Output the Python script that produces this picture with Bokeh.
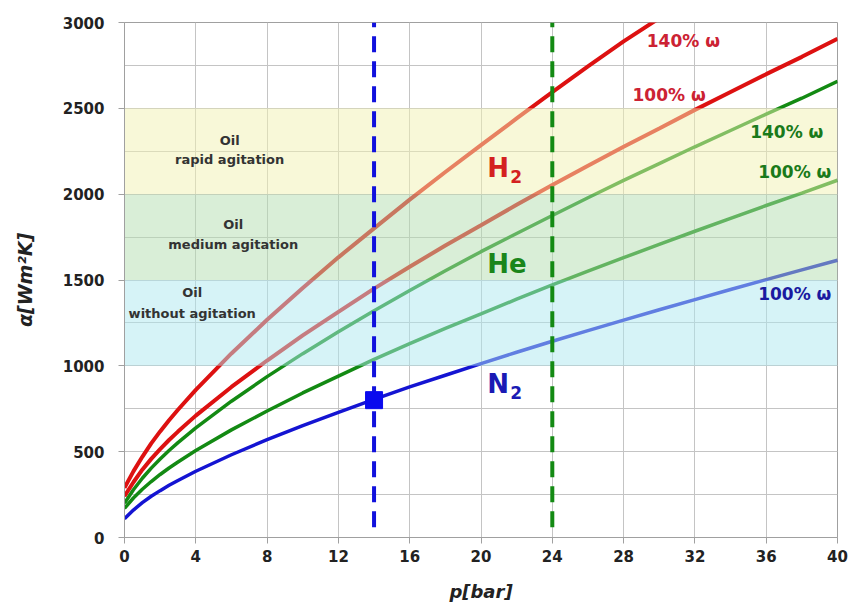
from bokeh.plotting import figure
from bokeh.models import Range1d, SingleIntervalTicker, FixedTicker
from bokeh.core.properties import value
from bokeh.embed import file_html
from bokeh.resources import INLINE

# ---- data ----
x_h2_140 = [0, 0.5, 1, 1.5, 2, 2.5, 3, 4, 6, 8, 10, 12, 14, 16, 18, 20, 22, 24, 26, 28, 30]
h2_140 = [290, 385, 470, 548, 618, 683, 744, 860, 1072, 1268, 1454, 1632, 1801, 1968, 2129, 2286, 2441, 2595, 2744, 2890, 3025]

x_p = [0, 0.5, 1, 1.5, 2, 2.5, 3, 4, 6, 8, 10, 12, 14, 16, 18, 20, 22, 24, 26, 28, 30, 32, 34, 36, 38, 40]
h2_100 = [240, 322, 395, 458, 515, 568, 617, 710, 877, 1031, 1177, 1314, 1450, 1577, 1701, 1819, 1938, 2054, 2166, 2276, 2383, 2491, 2595, 2699, 2800, 2905]
he_140 = [200, 278, 345, 404, 457, 507, 553, 639, 794, 937, 1071, 1198, 1321, 1439, 1554, 1665, 1771, 1876, 1979, 2080, 2178, 2276, 2371, 2466, 2559, 2658]
he_100 = [170, 230, 281, 326, 367, 405, 440, 507, 627, 737, 842, 940, 1038, 1129, 1218, 1302, 1388, 1471, 1552, 1630, 1707, 1784, 1859, 1934, 2006, 2081]
n2_100 = [110, 160, 203, 240, 273, 304, 332, 386, 482, 570, 652, 729, 805, 877, 945, 1013, 1079, 1143, 1205, 1266, 1327, 1386, 1445, 1502, 1559, 1615]

band_bottom = [1000, 1500, 2000]
band_top = [1500, 2000, 2500]
band_line1 = ["Oil", "Oil", "Oil"]
band_line2 = ["without agitation", "medium agitation", "rapid agitation"]

vline_x = [14, 24]
vline_bottom = [60, 60]
vline_top = [3000, 3000]
point_x = [14]
point_y = [800]

x_ticks = [0, 4, 8, 12, 16, 20, 24, 28, 32, 36, 40]

RED = "#dd1111"
GREEN = "#138a13"
BLUE = "#1414d2"
FONT = "DejaVu Sans"

p = figure(width=851, height=609, output_backend="svg", toolbar_location=None,
           x_range=Range1d(0, 40), y_range=Range1d(0, 3000),
           min_border_left=124, min_border_right=14, min_border_top=22, min_border_bottom=72)
p.background_fill_color = "white"
p.border_fill_color = "white"
p.outline_line_color = "#a0a0a0"
p.outline_line_width = 1

# axes
p.xaxis.ticker = FixedTicker(ticks=x_ticks)
p.yaxis.ticker = SingleIntervalTicker(interval=500, num_minor_ticks=2)
for ax in (p.xaxis[0], p.yaxis[0]):
    ax.axis_line_color = "#a0a0a0"
    ax.major_tick_line_color = "#a0a0a0"
    ax.minor_tick_line_color = "#a0a0a0"
    ax.major_tick_in = 0
    ax.major_tick_out = 6
    ax.minor_tick_in = 0
    ax.minor_tick_out = 0
    ax.major_label_text_font = FONT
    ax.major_label_text_font_style = "bold"
    ax.major_label_text_font_size = "15px"
    ax.major_label_text_color = "#222222"
    ax.axis_label_text_font = FONT
    ax.axis_label_text_font_style = "bold italic"
    ax.axis_label_text_font_size = "18px"
    ax.axis_label_text_color = "#222222"
p.xaxis.major_label_standoff = 6
p.yaxis.major_label_standoff = 14
p.xaxis.axis_label = "p[bar]"
p.yaxis.axis_label = "α[Wm²K]"
p.xaxis.axis_label_standoff = 16
p.yaxis.axis_label_standoff = 24
p.yaxis.axis_label_text_font_size = "19px"

p.grid.grid_line_color = "#c4c4c4"
p.grid.grid_line_width = 1
p.ygrid.minor_grid_line_color = "#c4c4c4"
p.ygrid.minor_grid_line_width = 1

# curves
p.line(x_h2_140, h2_140, line_color=RED, line_width=4)
p.line(x_p, h2_100, line_color=RED, line_width=4)
p.line(x_p, he_140, line_color=GREEN, line_width=3.5)
p.line(x_p, he_100, line_color=GREEN, line_width=3.5)
p.line(x_p, n2_100, line_color=BLUE, line_width=3.5)

# translucent bands on top of curves
band_colors = ["#ade7ef", "#b3ddaf", "#f1f1b1"]
p.quad(left=[0, 0, 0], right=[40, 40, 40], bottom=band_bottom, top=band_top,
       fill_color=band_colors, fill_alpha=0.5, line_color=None)

# dashed verticals and marker
p.segment(x0=vline_x, y0=vline_bottom, x1=vline_x, y1=vline_top,
          line_color=["#1111dd", "#138a13"], line_width=4, line_dash="16 9")
p.scatter(point_x, point_y, marker="square", size=17, color="#0a0aee")

# band labels
lab_x = [3.8, 6.1, 5.9]
lab_y1 = [1425, 1825, 2310]
lab_y2 = [1305, 1705, 2200]
p.text(lab_x, lab_y1, text=band_line1, text_font=value(FONT), text_font_style="bold",
       text_font_size="13px", text_color="#333333", text_align="center", text_baseline="middle")
p.text(lab_x, lab_y2, text=band_line2, text_font=value(FONT), text_font_style="bold",
       text_font_size="13px", text_color="#333333", text_align="center", text_baseline="middle")

# curve labels
lbl_x = [29.3, 28.5, 35.1, 35.55, 35.55]
lbl_y = [2890, 2575, 2365, 2130, 1420]
lbl_t = ["140% ω", "100% ω", "140% ω", "100% ω", "100% ω"]
lbl_c = ["#cc2233", "#cc2233", "#1a7a1a", "#1a7a1a", "#1a1aa0"]
p.text(lbl_x, lbl_y, text=lbl_t, text_color=lbl_c, text_font=value(FONT), text_font_style="bold",
       text_font_size="17px", text_align="left", text_baseline="middle")

# gas labels
gas_x = [20.35, 20.35, 20.35]
gas_y = [2150, 1595, 893]
gas_t = ["H", "He", "N"]
gas_c = ["#d42020", "#1a861a", "#1a1ab4"]
p.text(gas_x, gas_y, text=gas_t, text_color=gas_c, text_font=value(FONT), text_font_style="bold",
       text_font_size="26px", text_align="left", text_baseline="middle")
sub_x = [20.35, 20.35]
sub_y = [2150, 893]
sub_t = ["2", "2"]
p.text(sub_x, sub_y, text=sub_t, text_color=["#d42020", "#1a1ab4"], text_font=value(FONT),
       text_font_style="bold", text_font_size="17px", text_align="left", text_baseline="middle",
       x_offset=[23, 23], y_offset=[8, 8])

open("out.html", "w").write(file_html(p, INLINE))
